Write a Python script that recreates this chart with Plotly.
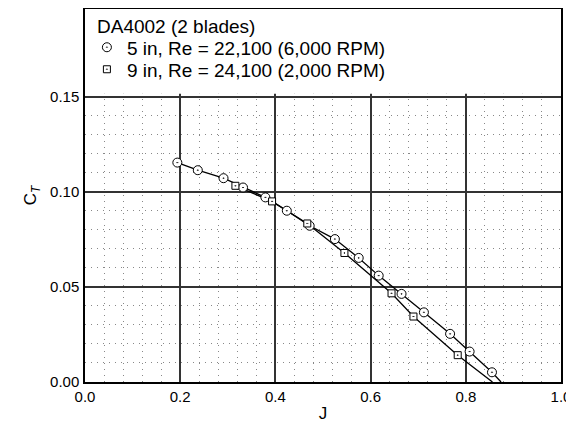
import plotly.graph_objects as go

# DA4002 (2 blades) thrust coefficient vs advance ratio
j_5in = [0.194, 0.237, 0.291, 0.332, 0.379, 0.424, 0.472, 0.525, 0.575, 0.617, 0.665, 0.712, 0.767, 0.808, 0.855]
ct_5in = [0.1153, 0.1113, 0.1071, 0.1022, 0.0970, 0.0900, 0.0821, 0.0751, 0.0652, 0.0559, 0.0463, 0.0366, 0.0253, 0.0160, 0.0051]

j_9in = [0.316, 0.393, 0.467, 0.545, 0.644, 0.690, 0.783]
ct_9in = [0.1031, 0.0949, 0.0833, 0.0678, 0.0466, 0.0344, 0.0141]

# where the drawn curves meet the J axis
j_5in_end, ct_5in_end = 0.874, 0.0
j_9in_end, ct_9in_end = 0.856, 0.0

name_5in = "5 in, Re = 22,100 (6,000 RPM)"
name_9in = "9 in, Re = 24,100 (2,000 RPM)"
title_text = "DA4002 (2 blades)"

font = "Liberation Sans, Arial, sans-serif"

fig = go.Figure()

fig.add_trace(go.Scatter(x=j_5in + [j_5in_end], y=ct_5in + [ct_5in_end], mode="lines",
                         line=dict(color="black", width=1.3), showlegend=False, hoverinfo="skip"))
fig.add_trace(go.Scatter(x=j_9in + [j_9in_end], y=ct_9in + [ct_9in_end], mode="lines",
                         line=dict(color="black", width=1.3), showlegend=False, hoverinfo="skip"))

fig.add_trace(go.Scatter(x=j_5in, y=ct_5in, mode="markers", name=name_5in, legend="legend",
                         marker=dict(symbol="circle-dot", size=9, color="white",
                                     line=dict(color="black", width=1))))
fig.add_trace(go.Scatter(x=j_9in, y=ct_9in, mode="markers", name=name_9in, legend="legend2",
                         marker=dict(symbol="square-dot", size=7, color="white",
                                     line=dict(color="black", width=1))))

# white panel behind the legend, covering the grid above 0.15
fig.add_shape(type="rect", xref="paper", yref="y", x0=0, x1=1, y0=0.1515, y1=0.196,
              fillcolor="white", line=dict(width=0), layer="above")

fig.add_annotation(text=title_text, xref="paper", yref="paper", x=0.02, y=1.0,
                   xanchor="left", yanchor="top", yshift=-5, showarrow=False,
                   font=dict(size=19))

# page body has an 8px margin, so the figure is a bit smaller than the window
fig.update_layout(
    width=566, height=419,
    margin=dict(l=77, r=13, t=1, b=45),
    plot_bgcolor="white", paper_bgcolor="white",
    font=dict(family=font, size=15, color="black"),
    legend=dict(x=0.004, y=0.948, xanchor="left", yanchor="top",
                bgcolor="rgba(0,0,0,0)", font=dict(size=19)),
    legend2=dict(x=0.004, y=0.889, xanchor="left", yanchor="top",
                 bgcolor="rgba(0,0,0,0)", font=dict(size=19)),
)

fig.update_xaxes(
    range=[0, 1], tickvals=[0, 0.2, 0.4, 0.6, 0.8, 1.0], tickformat=".1f",
    showgrid=True, gridcolor="#333", gridwidth=1.5,
    minor=dict(dtick=0.04, showgrid=True, gridcolor="#888", griddash="1px,5px", gridwidth=1),
    showline=True, linecolor="black", linewidth=1.5, mirror=True, ticks="",
    zeroline=False, automargin=False, ticklabelstandoff=0,
    title=dict(text="J", font=dict(size=17), standoff=3),
)
fig.update_yaxes(
    range=[0, 0.196], tickvals=[0, 0.05, 0.10, 0.15], tickformat=".2f",
    showgrid=True, gridcolor="#333", gridwidth=1.5,
    minor=dict(dtick=0.01, showgrid=True, gridcolor="#888", griddash="1px,5px", gridwidth=1),
    showline=True, linecolor="black", linewidth=1.5, mirror=True, ticks="",
    zeroline=False, automargin=False, ticklabelstandoff=1,
    title=dict(text="C<sub><i>T</i></sub>", font=dict(size=17), standoff=9),
)

fig.write_html("out.html")
